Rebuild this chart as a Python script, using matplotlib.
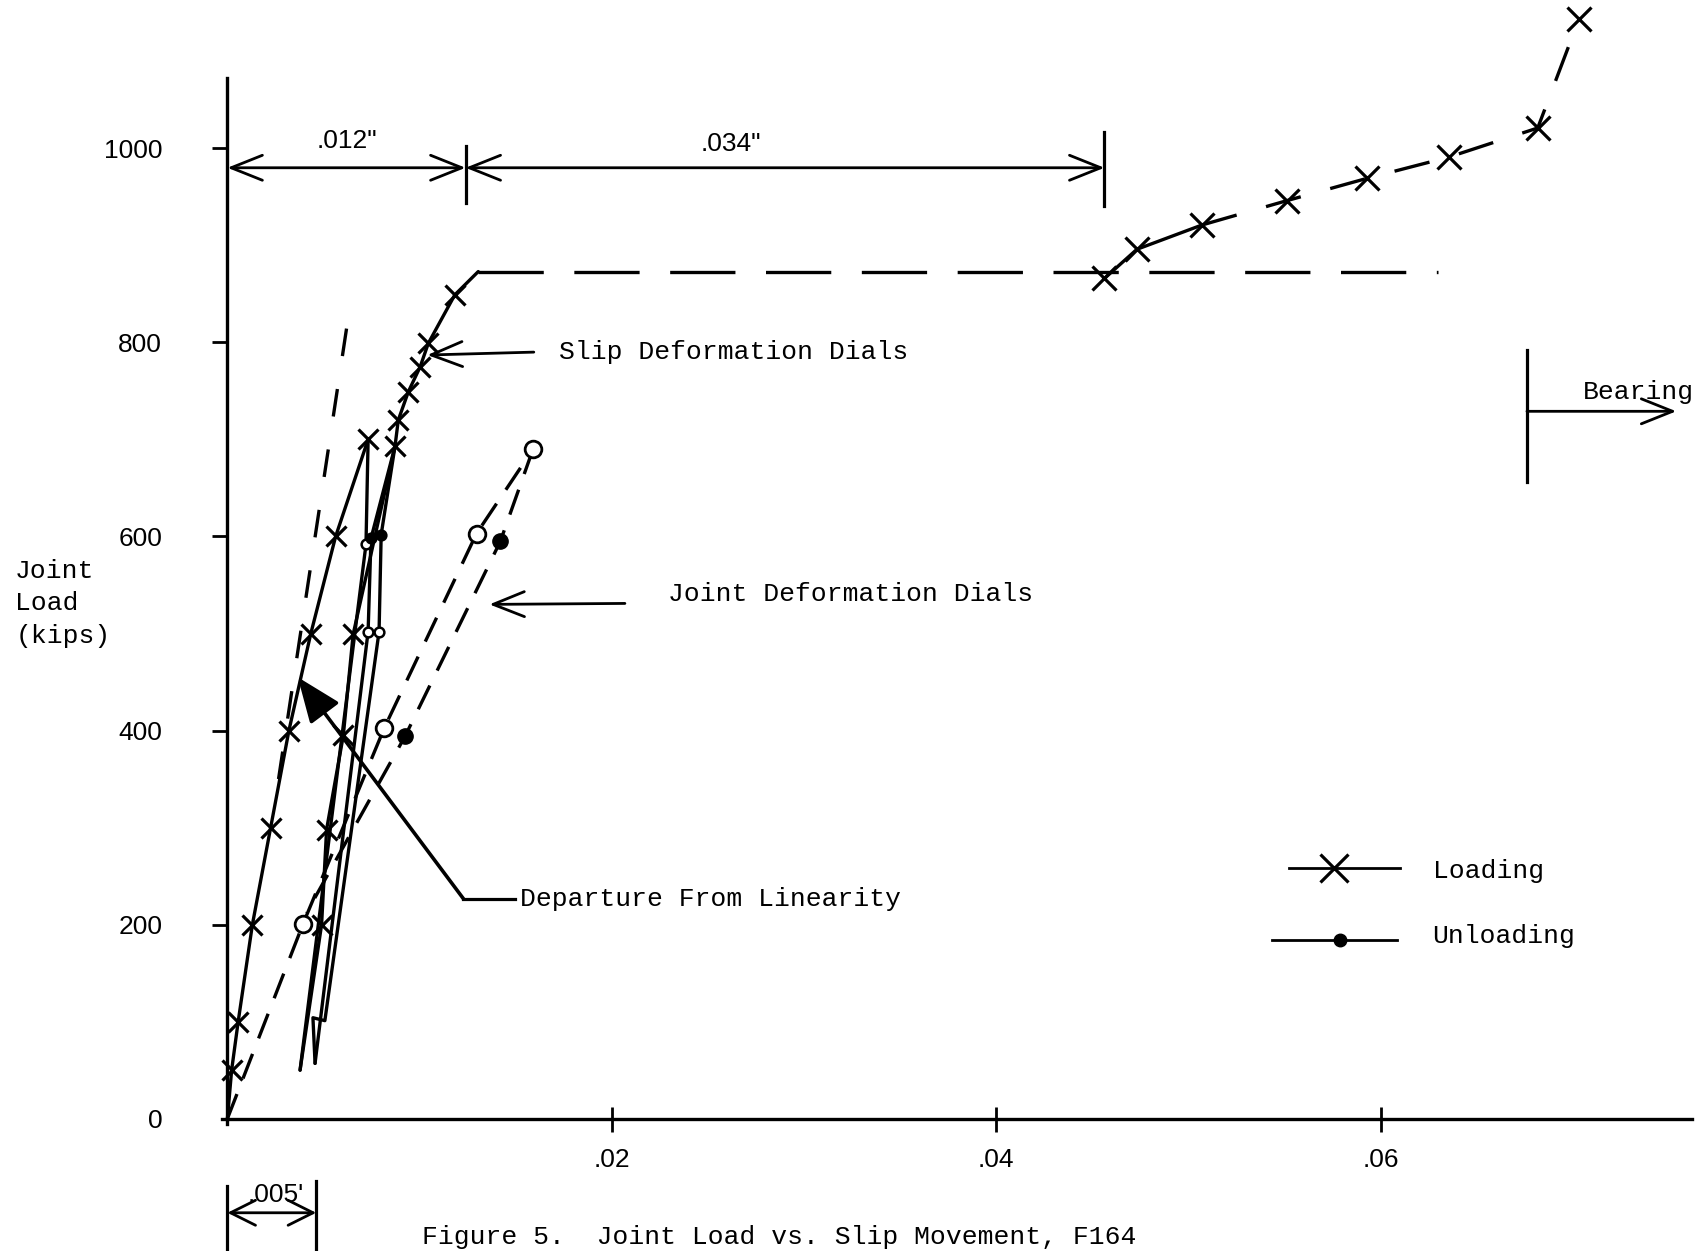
import matplotlib
matplotlib.use("Agg")
import matplotlib.pyplot as plt

plt.rcParams["lines.scale_dashes"] = False
MONO = ["Liberation Mono", "DejaVu Sans Mono"]
SANS = ["Liberation Sans", "DejaVu Sans"]

# ---------------- data (slip in inches, load in kips) ----------------
# Slip deformation dials (solid lines)
slip_load1_x = [0.0, 0.00022, 0.00056, 0.0013, 0.00225, 0.0032, 0.00434, 0.00563, 0.00732]
slip_load1_y = [0, 50, 100, 200, 300, 400, 500, 600, 700]
slip_unload1_x = [0.00732, 0.00721, 0.00378]
slip_unload1_y = [700, 592, 50]
slip_reload2_x = [0.00378, 0.0049, 0.00516, 0.00603, 0.00654, 0.00872]
slip_reload2_y = [50, 200, 298, 395, 499, 693]
slip_unload2_x = [0.00872, 0.00747, 0.00732, 0.00456]
slip_unload2_y = [693, 598, 502, 57]
slip_reload3_x = [0.00456, 0.00445, 0.00507, 0.00789, 0.008, 0.00872, 0.00889,
                  0.00941, 0.01003, 0.01045, 0.01183, 0.01305]
slip_reload3_y = [57, 104, 101, 502, 602, 693, 720, 749, 775, 799, 849, 873]

# loading marks (x) on slip curves
slip_xmark_x = [0.00022, 0.00056, 0.0013, 0.00225, 0.0032, 0.00434, 0.00563, 0.00732,
                0.0049, 0.00516, 0.00603, 0.00654, 0.00872, 0.00889, 0.00941,
                0.01003, 0.01045, 0.01183]
slip_xmark_y = [50, 100, 200, 300, 400, 500, 600, 700, 200, 298, 395, 499, 693, 720,
                749, 775, 799, 849]
# unloading marks on slip curves
slip_open_x = [0.00721, 0.00732, 0.00789]
slip_open_y = [592, 502, 502]
slip_fill_x = [0.00747, 0.008]
slip_fill_y = [598, 602]

# slip plateau (dashed)
plateau_x = [0.01305, 0.0630]
plateau_y = [873, 873]

# bearing branch
bearing_x = [0.04563, 0.04732, 0.0507, 0.0551, 0.05927, 0.06355, 0.06817, 0.07031]
bearing_y = [866, 896, 921, 946, 969, 991, 1021, 1133]

# Joint deformation dials (dashed)
joint_load_x = [0.0, 0.00394, 0.00817, 0.01296, 0.0159]
joint_load_y = [0, 201, 403, 603, 690]
joint_unload_x = [0.0159, 0.0142, 0.00924, 0.00411]
joint_unload_y = [690, 595, 394, 212]

# linear reference line (dashed)
linear_x = [0.00266, 0.00631]
linear_y = [350, 829]

# axis ticks
ytick_vals = [0, 200, 400, 600, 800, 1000]
ytick_labels = ["0", "200", "400", "600", "800", "1000"]
xtick_vals = [0.02, 0.04, 0.06]
xtick_labels = [".02", ".04", ".06"]

# ---------------- figure ----------------
fig = plt.figure(figsize=(16.98, 12.51), dpi=100)
ax = fig.add_axes([0, 0, 1, 1])
ax.set_xlim(-0.011831, 0.076508)
ax.set_ylim(-136.4, 1152.9)
ax.patch.set_alpha(0)

for s in ("top", "right"):
    ax.spines[s].set_visible(False)
ax.spines["left"].set_position(("data", 0))
ax.spines["bottom"].set_position(("data", 0))
ax.spines["left"].set_bounds(-6, 1073)
ax.spines["bottom"].set_bounds(-0.0003, 0.0762)
ax.spines["left"].set_linewidth(2.4)
ax.spines["bottom"].set_linewidth(2.4)

ax.set_yticks(ytick_vals)
ax.set_yticklabels(ytick_labels, fontsize=19, family=SANS)
ax.tick_params(axis="y", direction="out", length=11, width=2, pad=36)
ax.yaxis.get_major_ticks()[0].tick1line.set_visible(False)
ax.set_xticks(xtick_vals)
ax.set_xticklabels(xtick_labels, fontsize=19, family=SANS)
ax.tick_params(axis="x", direction="inout", length=18, width=2, pad=12)

LW = 2.4
K = "black"
# slip curves
for xs, ys in [(slip_load1_x, slip_load1_y), (slip_unload1_x, slip_unload1_y),
               (slip_reload2_x, slip_reload2_y), (slip_unload2_x, slip_unload2_y),
               (slip_reload3_x, slip_reload3_y)]:
    ax.plot(xs, ys, color=K, lw=LW, solid_capstyle="round")
ax.plot(slip_xmark_x, slip_xmark_y, ls="none", marker="x", ms=15, mew=2.3, color=K)
ax.plot(slip_open_x, slip_open_y, ls="none", marker="o", ms=7, mew=1.8,
        mfc="white", mec=K, zorder=4)
ax.plot(slip_fill_x, slip_fill_y, ls="none", marker="o", ms=7, mew=1.8, color=K, zorder=4)

ax.plot(plateau_x, plateau_y, color=K, lw=LW, dashes=(47, 22))
ax.plot(bearing_x[:3], bearing_y[:3], color=K, lw=LW)
ax.plot(bearing_x[2:], bearing_y[2:], color=K, lw=LW, dashes=(26, 22))
ax.plot(bearing_x, bearing_y, ls="none", marker="x", ms=17, mew=2.3, color=K)

ax.plot(joint_load_x, joint_load_y, color=K, lw=LW, dashes=(19, 12))
ax.plot(joint_unload_x, joint_unload_y, color=K, lw=LW, dashes=(19, 12))
ax.plot(joint_load_x[1:], joint_load_y[1:], ls="none", marker="o", ms=12, mew=2,
        mfc="white", mec=K, zorder=4)
ax.plot(joint_unload_x[1:3], joint_unload_y[1:3], ls="none", marker="o", ms=11,
        color=K, zorder=4)
ax.plot(linear_x, linear_y, color=K, lw=LW, dashes=(20, 24))

# ---------------- dimensions & annotations ----------------
ah = dict(lw=2, color=K, shrinkA=0, shrinkB=0, mutation_scale=30)
ax.annotate("", xy=(0, 980), xytext=(0.01239, 980),
            arrowprops=dict(arrowstyle="<->,head_length=0.75,head_width=0.3", **ah))
ax.annotate("", xy=(0.01239, 980), xytext=(0.04563, 980),
            arrowprops=dict(arrowstyle="<->,head_length=0.75,head_width=0.3", **ah))
ax.plot([0.01239, 0.01239], [944, 1002], color=K, lw=2.3)
ax.plot([0.04563, 0.04563], [941, 1017], color=K, lw=2.3)
ax.text(0.0062, 1008, '.012"', fontsize=19, family=SANS, ha="center", va="center")
ax.text(0.0262, 1005, '.034"', fontsize=19, family=SANS, ha="center", va="center")

# .005 dimension below axis
ax.plot([0, 0], [-69, -140], color=K, lw=2.3, clip_on=False)
ax.plot([0.00462, 0.00462], [-64, -140], color=K, lw=2.3, clip_on=False)
ax.annotate("", xy=(0, -97), xytext=(0.00462, -97),
            arrowprops=dict(arrowstyle="<->,head_length=0.6,head_width=0.3", **ah))
ax.text(0.00254, -79, ".005'", fontsize=19, family=SANS, ha="center", va="center")

# bearing marker
ax.plot([0.06761, 0.06761], [656, 792], color=K, lw=2.3)
ax.annotate("", xy=(0.07538, 729), xytext=(0.06761, 729),
            arrowprops=dict(arrowstyle="->,head_length=0.75,head_width=0.3", **ah))
ax.text(0.07054, 749, "Bearing", fontsize=19, family=MONO, ha="left", va="center")

# labels with leaders
ax.annotate("", xy=(0.0104, 787), xytext=(0.01594, 790),
            arrowprops=dict(arrowstyle="->,head_length=0.75,head_width=0.3", **ah))
ax.text(0.01724, 790, "Slip Deformation Dials", fontsize=19, family=MONO,
        ha="left", va="center")
ax.annotate("", xy=(0.01363, 530), xytext=(0.02068, 531),
            arrowprops=dict(arrowstyle="->,head_length=0.75,head_width=0.3", **ah))
ax.text(0.02293, 541, "Joint Deformation Dials", fontsize=19, family=MONO,
        ha="left", va="center")
ax.annotate("", xy=(0.00366, 455), xytext=(0.01228, 226.6),
            arrowprops=dict(arrowstyle="-|>,head_length=1.0,head_width=0.4",
                            lw=2.6, color=K, shrinkA=0, shrinkB=0, mutation_scale=28))
ax.plot([0.01228, 0.01495], [226.6, 226.6], color=K, lw=2.3)
ax.text(0.01521, 226.6, "Departure From Linearity", fontsize=19, family=MONO,
        ha="left", va="center")

# legend (hand drawn)
ax.plot([0.05521, 0.06101], [258, 258], color=K, lw=2)
ax.plot([0.05758], [258], marker="x", ms=20, mew=2.3, color=K)
ax.text(0.0627, 255, "Loading", fontsize=19, family=MONO, ha="left", va="center")
ax.plot([0.05437, 0.06085], [184, 184], color=K, lw=2)
ax.plot([0.05786], [184], marker="o", ms=9, color=K)
ax.text(0.0627, 188, "Unloading", fontsize=19, family=MONO, ha="left", va="center")

# axis title
ax.text(-0.01104, 531, "Joint\nLoad\n(kips)", fontsize=19, family=MONO,
        ha="left", va="center", multialignment="left", linespacing=1.45)

# figure caption at the bottom edge
ax.text(0.01014, -134, "Figure 5.  Joint Load vs. Slip Movement, F164",
        fontsize=19, family=MONO, ha="left", va="bottom")

fig.savefig("out.png", dpi=100)
